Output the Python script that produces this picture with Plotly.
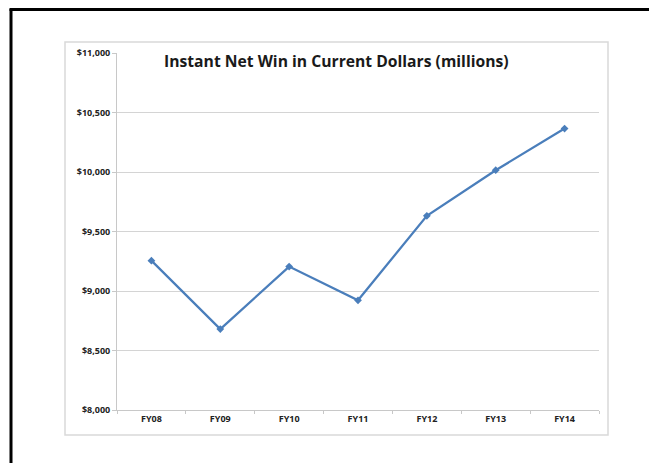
import plotly.graph_objects as go

categories = ["FY08", "FY09", "FY10", "FY11", "FY12", "FY13", "FY14"]
net_win = [9255, 8680, 9205, 8922, 9632, 10015, 10365]
title_text = "Instant Net Win in Current Dollars (millions)"

# the page body adds an 8px margin, so work in shifted coordinates
OFF = 8
W, H = 657 - OFF, 463 - OFF
L, R, T, B = 117 - OFF, 657 - 599, 53 - OFF, 463 - 410
pw, ph = W - L - R, H - T - B

def px(x):
    return (x - OFF - L) / pw

def py(y):
    return (H - B - (y - OFF)) / ph

fig = go.Figure()
fig.add_trace(go.Scatter(
    x=categories, y=net_win, mode="lines+markers",
    line=dict(color="#4a7ebb", width=2.25),
    marker=dict(symbol="diamond", size=6, color="#4a7ebb"),
    showlegend=False, hoverinfo="x+y",
))

fig.update_layout(
    width=W, height=H,
    margin=dict(l=L, r=R, t=T, b=B),
    paper_bgcolor="white", plot_bgcolor="white",
    font=dict(family="Open Sans, Liberation Sans, sans-serif", color="#262626"),
    xaxis=dict(
        type="category", range=[-0.5, 6.5],
        showgrid=False, showline=True, linecolor="#c8c8c8", linewidth=1,
        ticks="outside", tickson="boundaries", ticklen=3, tickcolor="#c8c8c8",
        tickfont=dict(size=9, weight="bold", color="#222222"),
        fixedrange=True,
    ),
    yaxis=dict(
        range=[8000, 11000], dtick=500, tickformat="$,.0f",
        showgrid=True, gridcolor="#d4d4d4", gridwidth=1,
        showline=True, linecolor="#c8c8c8", linewidth=1,
        ticks="outside", ticklen=4, tickcolor="#c8c8c8",
        tickfont=dict(size=9, weight="bold", color="#222222"),
        zeroline=False, fixedrange=True,
    ),
    shapes=[
        dict(type="rect", xref="paper", yref="paper",
             x0=px(65), x1=px(608), y0=py(435), y1=py(42),
             line=dict(color="#d9d9d9", width=1.5), layer="below"),
        dict(type="line", xref="paper", yref="paper",
             x0=px(11), x1=px(11), y0=py(9), y1=py(470),
             line=dict(color="black", width=3)),
        dict(type="line", xref="paper", yref="paper",
             x0=px(9.5), x1=px(665), y0=py(9), y1=py(9),
             line=dict(color="black", width=4)),
    ],
    annotations=[
        dict(text=title_text, xref="paper", yref="paper",
             x=px(336), y=py(61), xanchor="center", yanchor="middle",
             showarrow=False,
             font=dict(size=15.7, weight="bold", color="#1a1a1a",
                       family="Open Sans, Liberation Sans, sans-serif")),
    ],
)

fig.write_html("out.html")
